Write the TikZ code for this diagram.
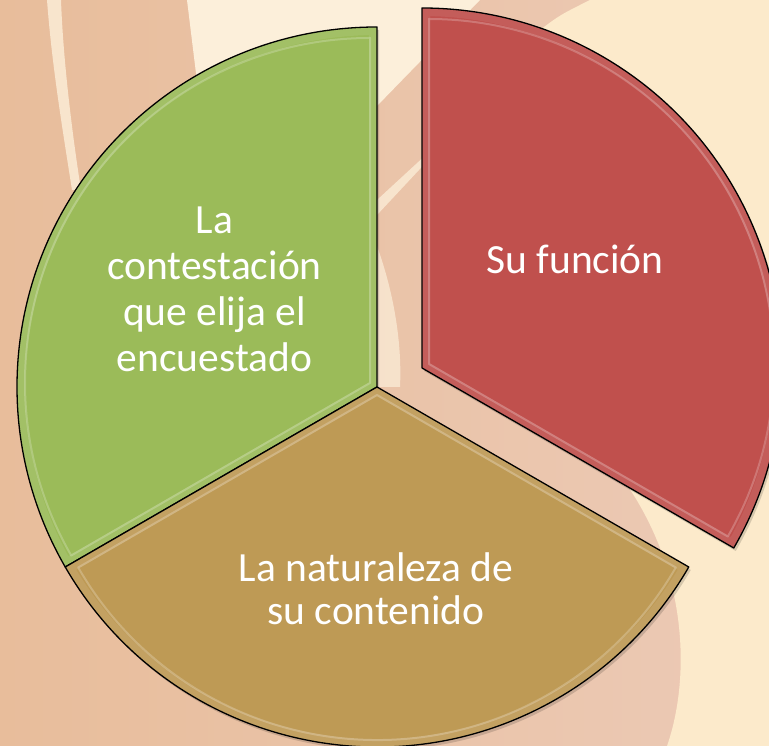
\documentclass[tikz,border=0pt]{standalone}
\usepackage{fontspec}
\setmainfont{Carlito}
\definecolor{gfill}{HTML}{9BBB59}
\definecolor{rfill}{HTML}{C0504D}
\definecolor{bfill}{HTML}{BE9A55}
\definecolor{peachL}{HTML}{E8BD9B}
\definecolor{peachM}{HTML}{ECCAB6}
\definecolor{creamA}{HTML}{FCEFDA}
\definecolor{creamB}{HTML}{FCEACB}
\newcommand\pathG{(377,359) -- ++(90:360) arc[start angle=90,end angle=210,radius=360] -- cycle}
\newcommand\pathB{(377,359) -- ++(210:360) arc[start angle=210,end angle=330,radius=360] -- cycle}
\newcommand\pathR{(422,378) -- ++(-30:360) arc[start angle=-30,end angle=90,radius=360] -- cycle}
\newcommand\insG{(370,363) -- ++(90:345) arc[start angle=90,end angle=210,radius=345] -- cycle}
\newcommand\insB{(377,351) -- ++(210:345) arc[start angle=210,end angle=330,radius=345] -- cycle}
\newcommand\insR{(429,382) -- ++(-30:345) arc[start angle=-30,end angle=90,radius=345] -- cycle}
\begin{document}
\begin{tikzpicture}[x=1pt,y=1pt,
  sector/.style={draw=black, line width=1.3pt, line join=round},
  shadowfill/.style={fill=black, opacity=0.15},
  glow/.style={draw=white, opacity=0.08, line width=16pt},
  bevel/.style={draw=white, opacity=0.22, line width=2pt, line join=round},
  lab/.style={text=white, align=center, inner sep=0pt, font=\fontsize{41.5}{46}\selectfont},
]
\useasboundingbox (0,0) rectangle (769,746);
% background
\shade[left color=peachL, right color=peachM] (0,0) rectangle (769,746);
\fill[creamA] (187,746) -- (480,746) -- (377,640) -- (200,640) -- cycle;
\fill[creamA, opacity=0.75] (377,531) -- (545,711) -- (556,711) -- (377,546) -- cycle;
\fill[creamB] (590,746) -- (769,746) -- (769,0) -- (667,0)
  .. controls (690,66) and (690,176) .. (620,271) -- (540,446) -- (540,716)
  .. controls (560,731) .. (590,746) -- cycle;
\fill[creamA, opacity=0.8] (47,746) .. controls (52,680) and (62,620) .. (72,556)
  -- (81,556) .. controls (71,620) and (63,690) .. (61,746) -- cycle;
\fill[creamA, opacity=0.7] (377,500) .. controls (395,450) and (402,400) .. (400,359) -- (377,359) -- cycle;
% shadows
\fill[shadowfill, shift={(2,-3)}] \pathG;
\fill[shadowfill, shift={(2,-3)}] \pathB;
\fill[shadowfill, shift={(2,-3)}] \pathR;
% green sector
\fill[gfill] \pathG;
\begin{scope}
  \clip \pathG;
  \path[glow] \pathG;
  \path[bevel] \insG;
\end{scope}
\path[sector] \pathG;
% brown sector
\fill[bfill] \pathB;
\begin{scope}
  \clip \pathB;
  \path[glow] \pathB;
  \path[bevel] \insB;
\end{scope}
\path[sector] \pathB;
% red sector
\fill[rfill] \pathR;
\begin{scope}
  \clip \pathR;
  \path[glow] \pathR;
  \path[bevel] \insR;
\end{scope}
\path[sector] \pathR;
% labels
\node[lab] (tg) at (214.5,457) {La\\contestación\\que elija el\\encuestado};
\node[lab, anchor=base] (tr) at (575,472) {Su función};
\node[lab, font=\fontsize{41.5}{43}\selectfont] (tb) at (376,157.5) {La naturaleza de\\su contenido};
\end{tikzpicture}
\end{document}
